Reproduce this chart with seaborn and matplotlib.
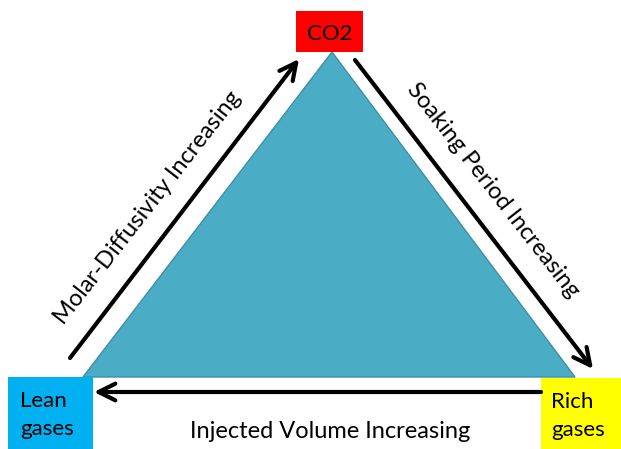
import matplotlib

matplotlib.use("Agg")
import matplotlib.pyplot as plt
import seaborn as sns
from matplotlib.patches import Polygon, Rectangle

# diagram geometry, in image pixels (origin top-left)
W, H = 621, 449
triangle_x = [83, 332, 575]
triangle_y = [377, 52, 377]

box_labels = ["CO2", "Lean\ngases", "Rich\ngases"]
box_x0 = [296, 8, 541]
box_y0 = [11, 377, 378]
box_w = [67, 85, 80]
box_h = [41, 72, 71]
box_colors = ["#FF0000", "#00B0F0", "#FFFF00"]
box_text_x = [329.5, 20, 551]
box_text_ha = ["center", "left", "left"]

arrow_labels = ["Molar-Diffusivity Increasing", "Soaking Period Increasing", "Injected Volume Increasing"]
arrow_start = [(70, 358), (355, 60), (541, 392)]
arrow_end = [(299, 59), (593, 369), (94, 392)]
label_pos = [(148, 208), (493, 190), (330, 431)]
label_rot = [52, -52, 0]

sns.set_theme(style="white")
plt.rcParams["font.family"] = ["Lato", "DejaVu Sans"]

fig = plt.figure(figsize=(W / 100, H / 100), dpi=100)
ax = fig.add_axes([0, 0, 1, 1])
ax.set_xlim(0, W)
ax.set_ylim(H, 0)
ax.axis("off")

ax.add_patch(Polygon(list(zip(triangle_x, triangle_y)), closed=True,
                     facecolor="#4BACC6", edgecolor="#3d8fa6", lw=1))

for lab, x0, y0, w, h, c, tx, ha in zip(box_labels, box_x0, box_y0, box_w, box_h,
                                        box_colors, box_text_x, box_text_ha):
    ax.add_patch(Rectangle((x0, y0), w, h, facecolor=c, edgecolor="none"))
    ax.text(tx, y0 + h / 2 + 2, lab, ha=ha, va="center",
            fontsize=16, color="black", linespacing=1.5)

for s, e in zip(arrow_start, arrow_end):
    ax.annotate("", xy=e, xytext=s,
                arrowprops=dict(arrowstyle="->", lw=3, color="black",
                                mutation_scale=30, shrinkA=0, shrinkB=0))

for lab, (x, y), r in zip(arrow_labels, label_pos, label_rot):
    ax.text(x, y, lab, ha="center", va="center", rotation=r,
            rotation_mode="anchor", fontsize=17, color="black")

fig.savefig("out.png", dpi=100)
plt.close(fig)
